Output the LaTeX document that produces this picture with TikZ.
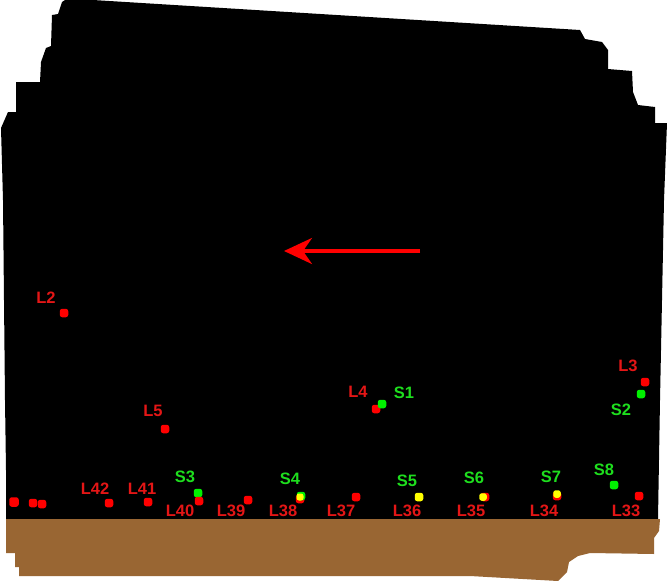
\documentclass[tikz,border=0pt]{standalone}
\usepackage{fontspec}
\setmainfont{Liberation Sans}
\usetikzlibrary{arrows.meta}
\definecolor{soil}{RGB}{153,102,51}
\definecolor{ltxt}{RGB}{228,22,22}
\definecolor{stxt}{RGB}{30,222,30}
\definecolor{reddot}{RGB}{255,0,0}
\definecolor{greendot}{RGB}{0,240,0}
\definecolor{yellowdot}{RGB}{255,255,0}
\tikzset{
  dot/.style={rounded rectangle dot,fill=#1},
  rounded rectangle dot/.style={rectangle,rounded corners=2.5pt,inner sep=0pt,minimum size=8.5pt},
  lab/.style={text=ltxt,font=\fontsize{16.5}{18}\selectfont\bfseries,inner sep=0pt},
  slab/.style={text=stxt,font=\fontsize{16.5}{18}\selectfont\bfseries,inner sep=0pt},
  dirarrow/.style={draw=reddot,line width=3.5pt,-{Stealth[length=28pt,width=26pt,inset=9pt]}}
}
\begin{document}
\begin{tikzpicture}[x=1pt,y=-1pt]
\useasboundingbox (0,0) rectangle (667,581);
\fill[white] (0,0) rectangle (667,581);
% black region
\fill[black] (62,2) -- (65,0) -- (93,0) -- (580,30) -- (585,39) -- (602,42) -- (608,50) -- (608,69)
  -- (632,71) -- (633,92) -- (638,105) -- (655,107) -- (655,123) -- (667,123)
  -- (664,200) -- (662,300) -- (660,400) -- (658,519)
  -- (6,519) -- (6,470) -- (5,400) -- (4,300) -- (3,200) -- (1,128)
  -- (8,112) -- (16,112) -- (16,82) -- (40,82) -- (41,62) -- (46,48) -- (51,46) -- (52,15) -- (58,14) -- cycle;
% brown ground
\fill[soil] (6,519) -- (660,519) -- (659,531) -- (654,538) -- (654,554) -- (590,553) -- (578,556)
  -- (569,562) -- (567,572) -- (558,581) -- (470,576) -- (19,576) -- (19,567) -- (15,567)
  -- (15,553) -- (6,553) -- cycle;
% arrow
\coordinate (atail) at (420,251);
\coordinate (ahead) at (284,251);
\draw[dirarrow] (atail) -- (ahead);
% dots
\node[dot=reddot] (dL2) at (64,313) {};
\node[dot=reddot] (dL5) at (165,429) {};
\node[dot=reddot] (dL4) at (376,409) {};
\node[dot=greendot] (dS1) at (382,404) {};
\node[dot=reddot] (dL3) at (645,382) {};
\node[dot=greendot] (dS2) at (641,394) {};
\node[dot=reddot,minimum size=9.5pt] (dA) at (14,502) {};
\node[dot=reddot] (dB) at (33,503) {};
\node[dot=reddot] (dC) at (42,504) {};
\node[dot=reddot] (dL42) at (109,503) {};
\node[dot=reddot] (dL41) at (148,502) {};
\node[dot=greendot] (dS3) at (198,493) {};
\node[dot=reddot] (dL40) at (199,501) {};
\node[dot=reddot] (dL39) at (248,500) {};
\node[dot=reddot] (dL38) at (300,499) {};
\node[dot=greendot] (dS4g) at (301,496) {};
\node[dot=yellowdot,minimum size=7pt] (dS4) at (300,497) {};
\node[dot=reddot] (dL37) at (356,497) {};
\node[dot=yellowdot] (dS5) at (419,497) {};
\node[dot=reddot] (dL35) at (485,497) {};
\node[dot=yellowdot,minimum size=7.5pt] (dS6) at (483,497) {};
\node[dot=reddot] (dL34) at (557,496) {};
\node[dot=yellowdot,minimum size=7.5pt] (dS7) at (557,494) {};
\node[dot=greendot] (dS8) at (614,485) {};
\node[dot=reddot] (dL33) at (639,496) {};
% labels
\node[lab] (tL2) at (46,298) {L2};
\node[lab] (tL5) at (153,411) {L5};
\node[lab] (tL4) at (358,392) {L4};
\node[slab] (tS1) at (404,393) {S1};
\node[lab] (tL3) at (628,366) {L3};
\node[slab] (tS2) at (621,410) {S2};
\node[lab] (tL42) at (95,489) {L42};
\node[lab] (tL41) at (142,489) {L41};
\node[slab] (tS3) at (185,477) {S3};
\node[lab] (tL40) at (180,511) {L40};
\node[lab] (tL39) at (231,511) {L39};
\node[slab] (tS4) at (290,479) {S4};
\node[lab] (tL38) at (283,511) {L38};
\node[lab] (tL37) at (341,511) {L37};
\node[slab] (tS5) at (407,481) {S5};
\node[lab] (tL36) at (407,511) {L36};
\node[slab] (tS6) at (474,478) {S6};
\node[lab] (tL35) at (471,511) {L35};
\node[slab] (tS7) at (551,477) {S7};
\node[lab] (tL34) at (544,511) {L34};
\node[slab] (tS8) at (604,470) {S8};
\node[lab] (tL33) at (626,511) {L33};
\end{tikzpicture}
\end{document}
